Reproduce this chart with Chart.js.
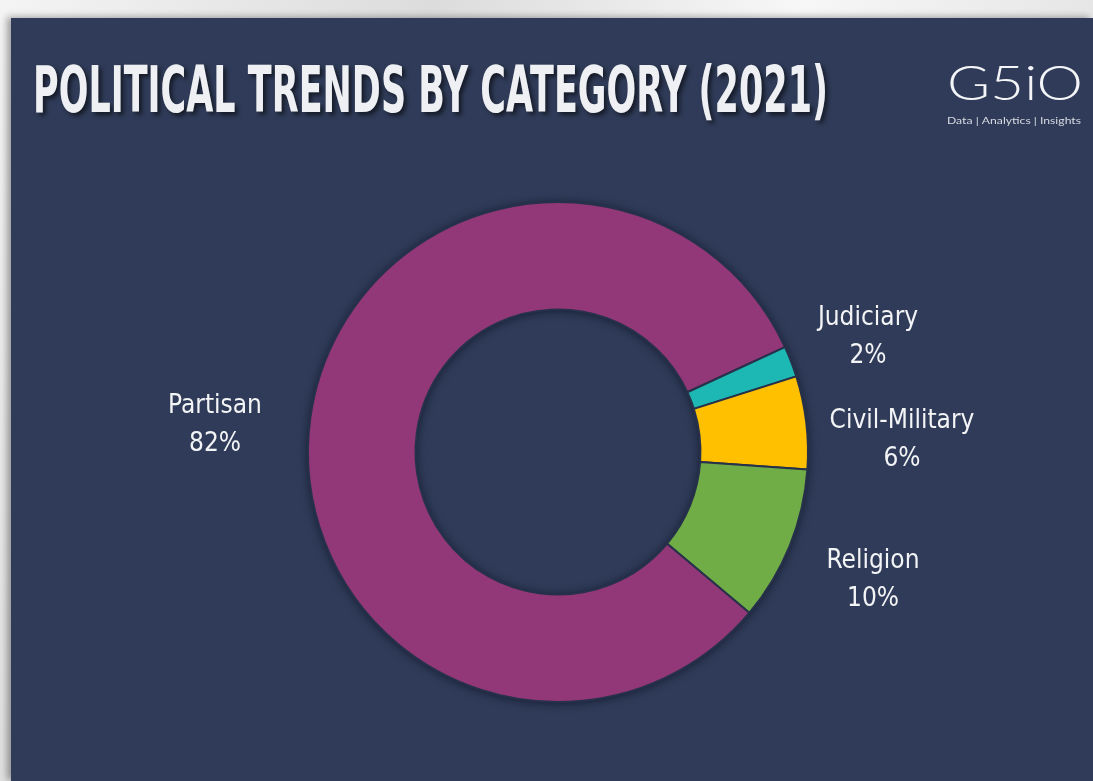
<!DOCTYPE html>
<html>
<head>
<meta charset="utf-8">
<title>Political Trends by Category (2021)</title>
<script src="https://cdn.jsdelivr.net/npm/chart.js@4"></script>
<style>
  html, body { margin: 0; padding: 0; }
  body {
    width: 1093px; height: 781px; overflow: hidden; position: relative;
    background: linear-gradient(115deg, #f4f4f4 0%, #dcdcdc 30%, #f7f7f7 55%, #e2e2e2 80%, #f2f2f2 100%);
  }
  #panel {
    position: absolute; left: 11px; top: 18px; right: 0; bottom: 0;
    background: #2f3b58;
    box-shadow: -4px -1px 7px rgba(0,0,0,0.35);
  }
  #wrap { position: absolute; left: 0; top: 0; width: 1093px; height: 781px; }
</style>
</head>
<body>
<div id="panel"></div>
<div id="wrap"><canvas id="chart"></canvas></div>
<script>
// Share of political trends by category, 2021
const categories = ['Partisan', 'Judiciary', 'Civil-Military', 'Religion'];
const shares = [82, 2, 6, 10];
const sliceColors = ['#923778', '#1db7b4', '#ffc000', '#70ad47'];
const titleText = 'POLITICAL TRENDS BY CATEGORY (2021)';
const brandName = 'G5iO';
const brandTagline = 'Data | Analytics | Insights';

// draws text stretched or squeezed horizontally to a given width
function fitText(ctx, text, x, y, width) {
  const w = ctx.measureText(text).width;
  ctx.save();
  ctx.translate(x, y);
  ctx.scale(width / w, 1);
  ctx.fillText(text, 0, 0);
  ctx.restore();
}

// soft shadow under the whole ring, drawn once before the slices
const ringShadow = {
  id: 'ringShadow',
  beforeDatasetsDraw(chart) {
    const arc = chart.getDatasetMeta(0).data[0];
    if (!arc) return;
    const ctx = chart.ctx;
    ctx.save();
    ctx.shadowColor = 'rgba(8, 12, 28, 0.7)';
    ctx.shadowBlur = 10;
    ctx.shadowOffsetY = 1;
    ctx.fillStyle = '#27314a';
    ctx.beginPath();
    ctx.arc(arc.x, arc.y, arc.outerRadius, 0, Math.PI * 2);
    ctx.moveTo(arc.x + arc.innerRadius, arc.y);
    ctx.arc(arc.x, arc.y, arc.innerRadius, 0, Math.PI * 2, true);
    ctx.fill('evenodd');
    ctx.restore();
  }
};

const headerAndLabels = {
  id: 'headerAndLabels',
  afterDraw(chart, args, opts) {
    const ctx = chart.ctx;
    // heading
    ctx.save();
    ctx.font = 'bold 64px "DejaVu Sans Condensed", "DejaVu Sans", sans-serif';
    ctx.textBaseline = 'alphabetic';
    ctx.textAlign = 'left';
    ctx.fillStyle = '#eef0f3';
    ctx.shadowColor = 'rgba(0, 0, 0, 0.55)';
    ctx.shadowBlur = 4;
    ctx.shadowOffsetX = 3;
    ctx.shadowOffsetY = 3;
    fitText(ctx, titleText, 33, 112, 795);
    ctx.restore();

    // brand mark
    ctx.save();
    ctx.fillStyle = '#f4f5f8';
    ctx.textAlign = 'left';
    ctx.font = '300 48px Lato, "Open Sans", sans-serif';
    fitText(ctx, brandName, 947, 100, 136);
    ctx.font = '10px Lato, "Open Sans", sans-serif';
    ctx.fillStyle = '#d8dbe3';
    fitText(ctx, brandTagline, 947, 124, 134);
    ctx.restore();

    // slice labels: name and share, placed around the ring
    const arc = chart.getDatasetMeta(0).data[0];
    const cx = arc.x, cy = arc.y;
    ctx.save();
    ctx.font = '26px "DejaVu Sans Condensed", "DejaVu Sans", sans-serif';
    ctx.fillStyle = '#f3f4f6';
    ctx.textAlign = 'center';
    ctx.textBaseline = 'alphabetic';
    const values = chart.data.datasets[0].data;
    chart.data.labels.forEach((name, i) => {
      const [dx, dy] = opts.offsets[i];
      ctx.fillText(name, cx + dx, cy + dy);
      ctx.fillText(values[i] + '%', cx + dx, cy + dy + 38);
    });
    ctx.restore();
  }
};

new Chart(document.getElementById('chart'), {
  type: 'doughnut',
  data: {
    labels: categories,
    datasets: [{
      data: shares,
      backgroundColor: sliceColors,
      borderColor: '#27314a',
      borderWidth: 2,
      hoverOffset: 0
    }]
  },
  options: {
    responsive: true,
    maintainAspectRatio: false,
    animation: false,
    rotation: 130,
    cutout: '57%',
    layout: { padding: { left: 307, right: 284, top: 201, bottom: 78 } },
    plugins: {
      legend: { display: false },
      tooltip: { enabled: false },
      headerAndLabels: {
        offsets: [[-343, -39], [310, -127], [344, -24], [315, 116]]
      }
    }
  },
  plugins: [ringShadow, headerAndLabels]
});
</script>
</body>
</html>
